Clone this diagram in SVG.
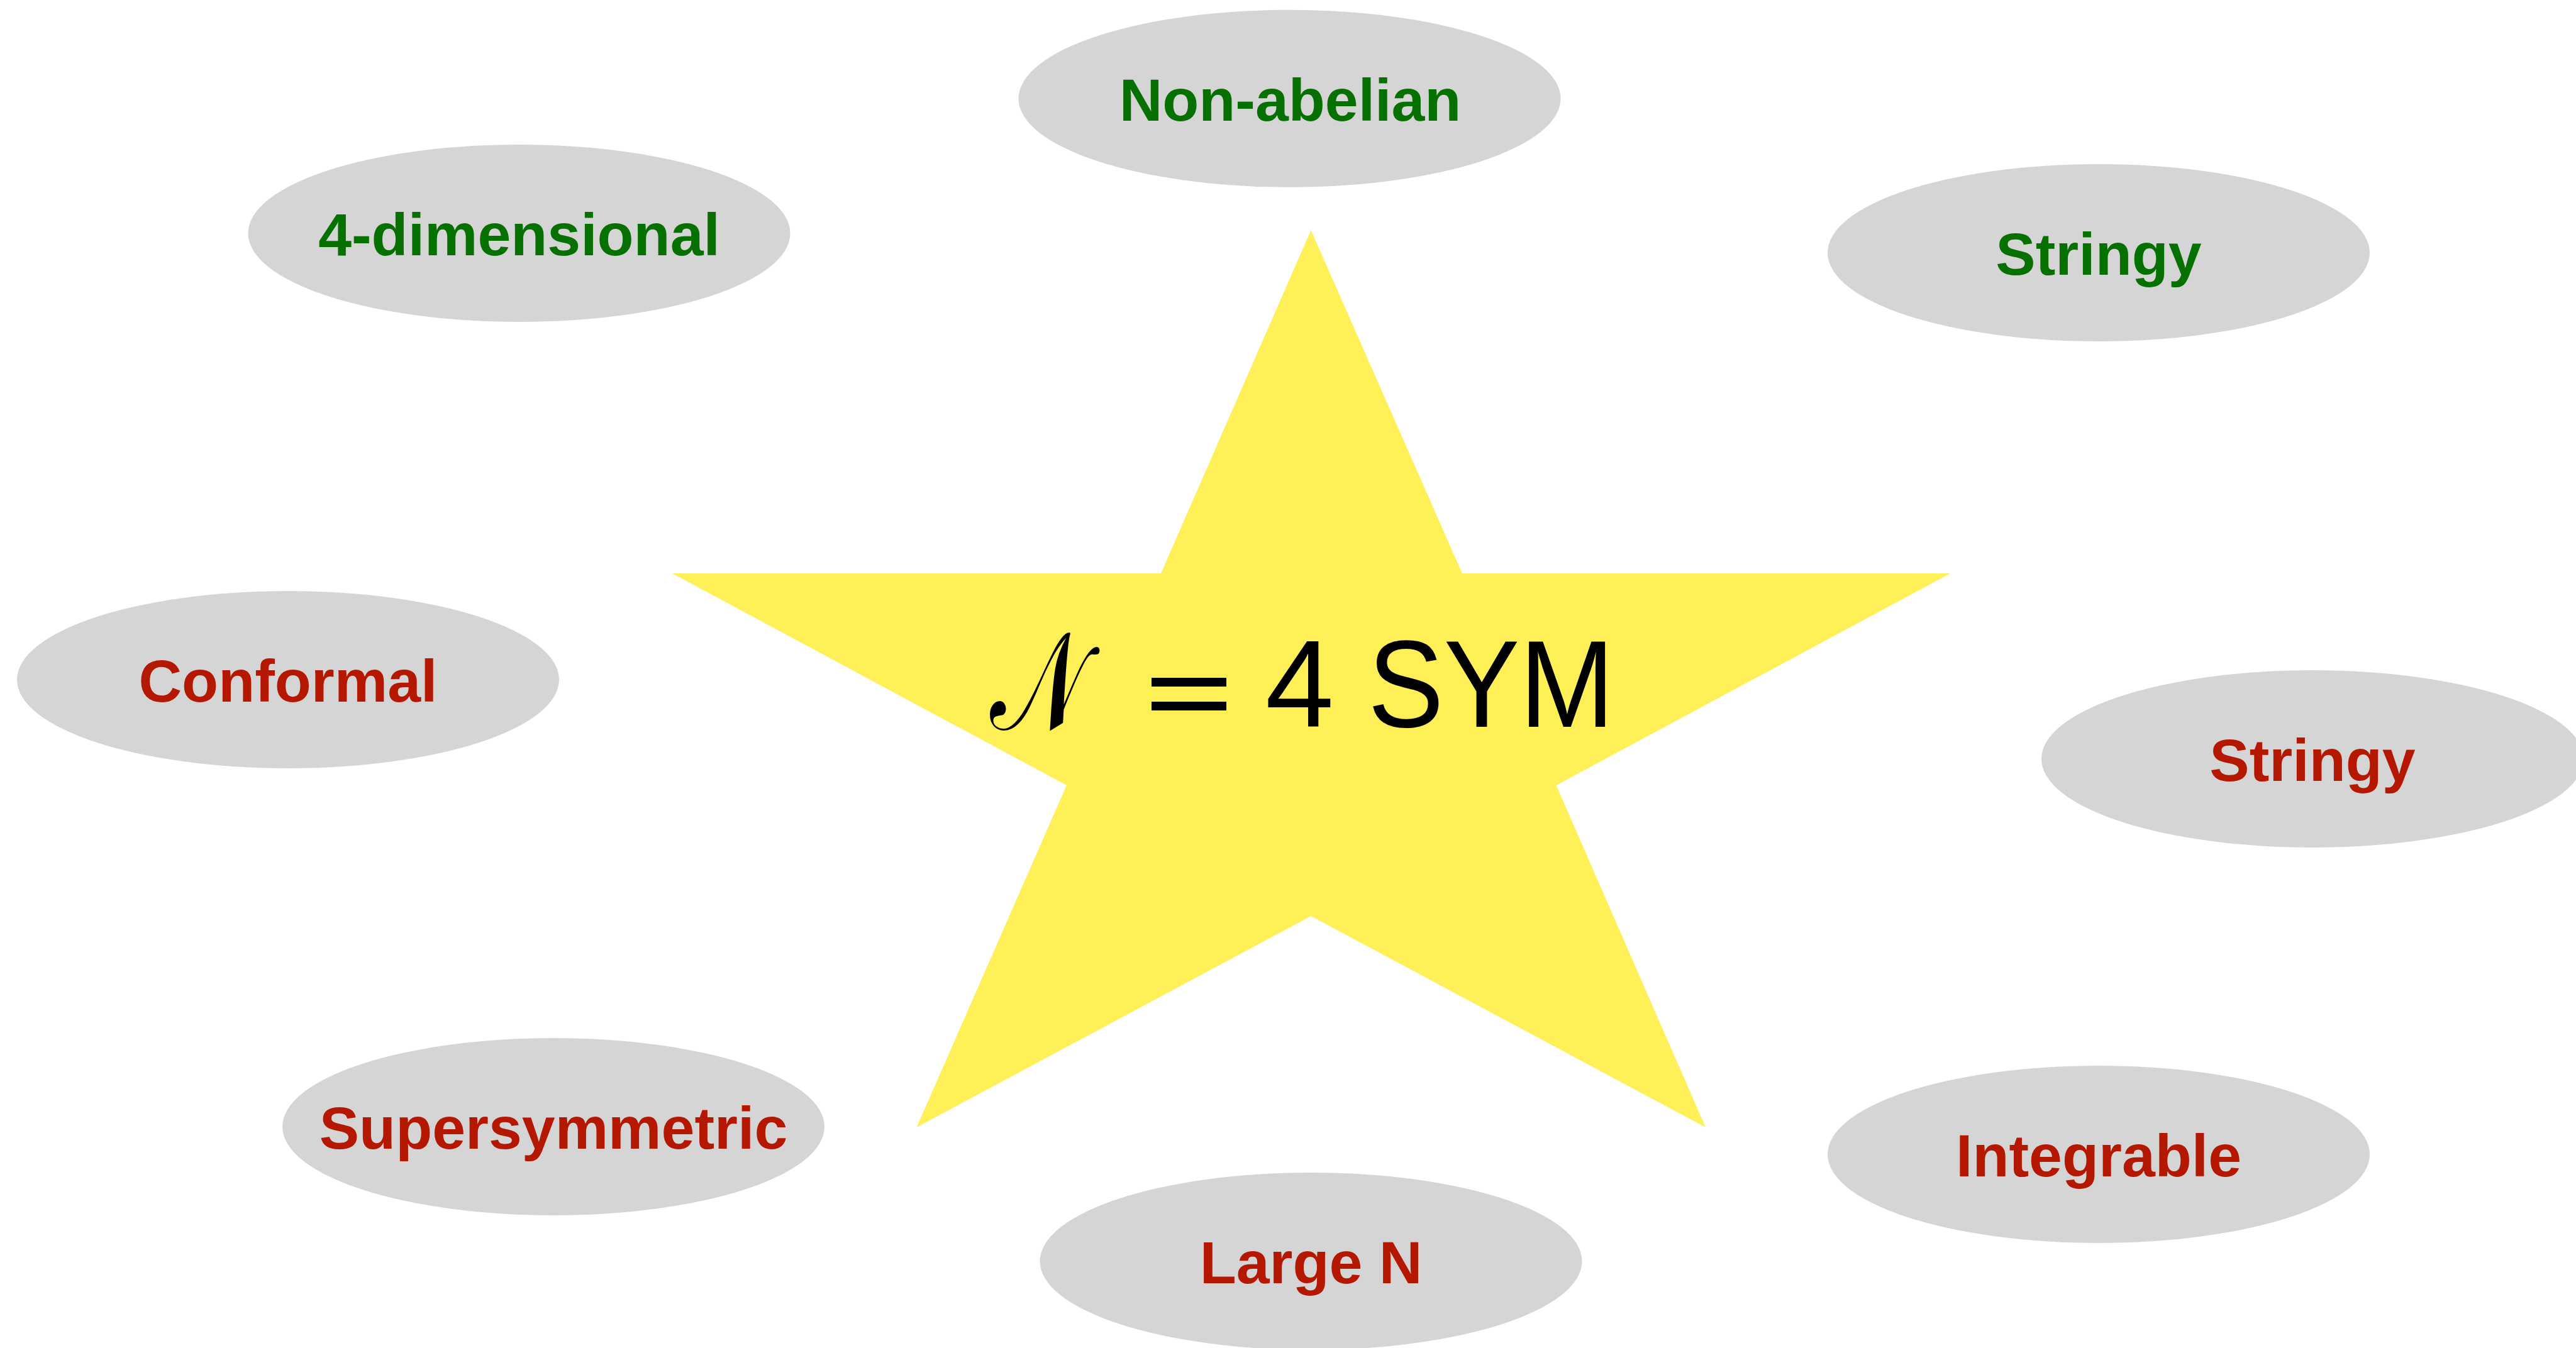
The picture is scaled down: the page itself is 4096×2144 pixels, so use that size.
<svg xmlns="http://www.w3.org/2000/svg" width="4096" height="2144" viewBox="0 0 4096 2144">
<style>
.node ellipse{fill:#d5d5d5}
.lbl{font-family:"Liberation Sans",Arial,sans-serif;font-weight:bold;font-size:95px;text-anchor:middle}
.g{fill:#067000}
.r{fill:#b51800}
.main{font-family:"Liberation Sans",Arial,sans-serif;font-size:196px;fill:#000}
</style>
<rect width="4096" height="2144" fill="#fff"/>
<g id="star">
<polygon points="2084.5,366 2325,912 3101,912 2474.5,1249 2712,1793 2084.5,1457 1457.5,1793 1696,1249 1069,912 1846,912" fill="#fff058"/>
<text class="main" transform="translate(1574,1160) scale(0.82,1.12)" x="0" y="0" font-family="'DejaVu Serif','Liberation Serif',serif">𝒩</text>
<rect x="1831" y="1078" width="119" height="14" fill="#000"/>
<rect x="1831" y="1116" width="119" height="14" fill="#000"/>
<text class="main" x="2012" y="1156">4</text>
<text class="main" x="2175" y="1156" textLength="392" lengthAdjust="spacingAndGlyphs">SYM</text>
</g>
<g id="n-nonabelian" class="node"><ellipse cx="2050.5" cy="156.7" rx="431" ry="141"/><text class="lbl g" x="2051.5" y="192">Non-abelian</text></g>
<g id="n-4dim" class="node"><ellipse cx="825.5" cy="371" rx="431" ry="141"/><text class="lbl g" x="825.5" y="406">4-dimensional</text></g>
<g id="n-stringy-g" class="node"><ellipse cx="3337" cy="402" rx="431" ry="141"/><text class="lbl g" x="3337" y="437">Stringy</text></g>
<g id="n-conformal" class="node"><ellipse cx="458" cy="1081" rx="431" ry="141"/><text class="lbl r" x="458" y="1116">Conformal</text></g>
<g id="n-stringy-r" class="node"><ellipse cx="3677" cy="1207" rx="431" ry="141"/><text class="lbl r" x="3677" y="1242">Stringy</text></g>
<g id="n-susy" class="node"><ellipse cx="880" cy="1792" rx="431" ry="141"/><text class="lbl r" x="880" y="1827">Supersymmetric</text></g>
<g id="n-integrable" class="node"><ellipse cx="3337" cy="1836" rx="431" ry="141"/><text class="lbl r" x="3337" y="1871">Integrable</text></g>
<g id="n-largeN" class="node"><ellipse cx="2084.5" cy="2006" rx="431" ry="141"/><text class="lbl r" x="2084.5" y="2041">Large N</text></g>
<g id="connectors"></g>
</svg>
